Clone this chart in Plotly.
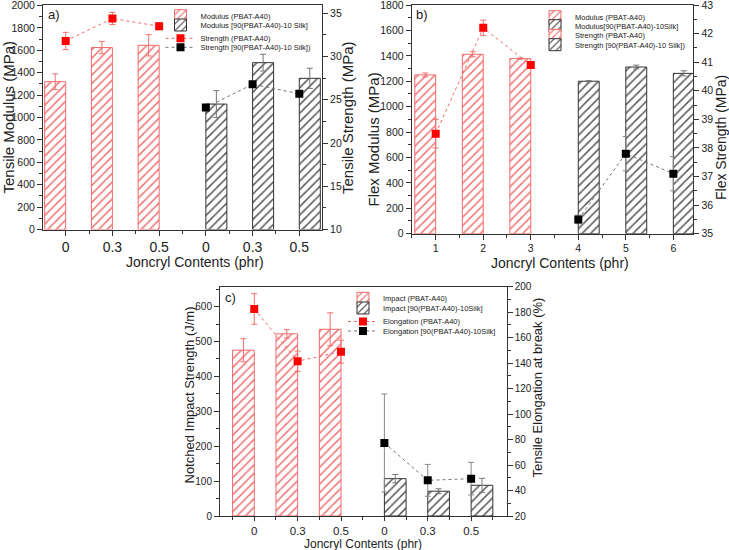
import plotly.graph_objects as go

# ---------------- data ----------------
positions = [1, 2, 3, 4, 5, 6]
labels_ac = ["0", "0.3", "0.5", "0", "0.3", "0.5"]
labels_b = ["1", "2", "3", "4", "5", "6"]

# panel a) tensile
tmod_pbat = [1320, 1625, 1645]
tmod_pbat_err = [70, 55, 95]
tmod_silk = [1120, 1490, 1350]
tmod_silk_err = [120, 75, 90]
tstr_pbat = [31.8, 34.4, 33.5]
tstr_pbat_err = [1.0, 0.7, 0.4]
tstr_silk = [24.1, 26.8, 25.7]
tstr_silk_err = [0.3, 0.3, 0.3]

# panel b) flexural
fmod_pbat = [1250, 1412, 1378]
fmod_pbat_err = [15, 20, 5]
fmod_silk = [1200, 1312, 1262]
fmod_silk_err = [5, 15, 20]
fstr_pbat = [38.5, 42.2, 40.9]
fstr_pbat_err = [0.5, 0.27, 0.1]
fstr_silk = [35.5, 37.8, 37.1]
fstr_silk_err = [0.15, 0.6, 0.6]

# panel c) impact / elongation
imp_pbat = [475, 522, 535]
imp_pbat_err = [33, 12, 47]
imp_silk = [107, 71, 88]
imp_silk_err = [12, 7, 20]
el_pbat = [182.5, 141.5, 149]
el_pbat_err = [12, 8, 9]
el_silk = [77.3, 48, 49.3]
el_silk_err = [38.5, 12.5, 12.8]

# ---------------- style ----------------
W, H = 729, 550
FONT = "Liberation Sans, Arial, sans-serif"
RED_LINE = "#f06a6a"
RED_HATCH = "#f07070"
RED_MK = "#ff0000"
BLK_LINE = "#333333"
BLK_HATCH = "#555555"
AX = "#333333"


def px(x):
    return x / W


def py(y):
    return 1 - y / H


def bar_marker(kind):
    if kind == "red":
        return dict(color="white", line=dict(color=RED_LINE, width=1),
                    pattern=dict(shape="/", fgcolor=RED_HATCH, bgcolor="white",
                                 fillmode="replace", size=6, solidity=0.25))
    return dict(color="white", line=dict(color=BLK_LINE, width=1),
                pattern=dict(shape="/", fgcolor=BLK_HATCH, bgcolor="white",
                             fillmode="replace", size=6, solidity=0.25))


fig = go.Figure()


def add_panel(n, red_y, red_err, blk_y, blk_err, rs_y, rs_err, bs_y, bs_err,
              names, width, legs, proxy_strength=False):
    xa = "x" if n == 1 else f"x{n}"
    yl = "y" if n == 1 else f"y{2*n-1}"
    yr = f"y{2*n}"
    fig.add_trace(go.Bar(x=positions[:3], y=red_y, width=width, offset=-width,
                         marker=bar_marker("red"), name=names[0],
                         error_y=dict(type="data", array=red_err, color=RED_HATCH,
                                      thickness=1, width=3),
                         xaxis=xa, yaxis=yl, legend=legs[0]))
    fig.add_trace(go.Bar(x=positions[3:], y=blk_y, width=width, offset=0,
                         marker=bar_marker("black"), name=names[1],
                         error_y=dict(type="data", array=blk_err, color="#777777",
                                      thickness=1, width=3),
                         xaxis=xa, yaxis=yl, legend=legs[1]))
    fig.add_trace(go.Scatter(x=positions[:3], y=rs_y, mode="lines+markers",
                             line=dict(color=RED_LINE, width=1, dash="dot"),
                             marker=dict(symbol="square", size=8, color=RED_MK),
                             error_y=dict(type="data", array=rs_err, color=RED_HATCH,
                                          thickness=1, width=3),
                             name=names[2], showlegend=not proxy_strength,
                             xaxis=xa, yaxis=yr, legend=legs[2]))
    fig.add_trace(go.Scatter(x=positions[3:], y=bs_y, mode="lines+markers",
                             line=dict(color="#777777", width=1, dash="dot"),
                             marker=dict(symbol="square", size=8, color="black"),
                             error_y=dict(type="data", array=bs_err, color="#888888",
                                          thickness=1, width=3),
                             name=names[3], showlegend=not proxy_strength,
                             xaxis=xa, yaxis=yr, legend=legs[3]))
    if proxy_strength:
        # legend-only entries (hatched boxes, as in the original legend); no value drawn
        fig.add_trace(go.Bar(x=positions[:1], y=[None], marker=bar_marker("red"),
                             name=names[2], hoverinfo="skip",
                             xaxis=xa, yaxis=yl, legend=legs[2]))
        fig.add_trace(go.Bar(x=positions[:1], y=[None], marker=bar_marker("black"),
                             name=names[3], hoverinfo="skip",
                             xaxis=xa, yaxis=yl, legend=legs[3]))


add_panel(1, tmod_pbat, tmod_pbat_err, tmod_silk, tmod_silk_err,
          tstr_pbat, tstr_pbat_err, tstr_silk, tstr_silk_err,
          ["Modulus (PBAT-A40)", "Modulus [90(PBAT-A40)-10 Silk]",
           "Strength (PBAT-A40)", "Strength [90(PBAT-A40)-10 Silk])"],
          0.45, ["legend", "legend2", "legend3", "legend4"])
add_panel(2, fmod_pbat, fmod_pbat_err, fmod_silk, fmod_silk_err,
          fstr_pbat, fstr_pbat_err, fstr_silk, fstr_silk_err,
          ["Modulus (PBAT-A40)", "Modulus[90(PBAT-A40)-10Silk]",
           "Strength (PBAT-A40)", "Strength [90(PBAT-A40)-10 Silk])"],
          0.44, ["legend5", "legend6", "legend7", "legend8"], proxy_strength=True)
add_panel(3, imp_pbat, imp_pbat_err, imp_silk, imp_silk_err,
          el_pbat, el_pbat_err, el_silk, el_silk_err,
          ["Impact (PBAT-A40)", "Impact [90(PBAT-A40)-10Silk]",
           "Elongation (PBAT-A40)", "Elongation [90(PBAT-A40)-10Silk]"],
          0.5, ["legend9", "legend10", "legend11", "legend12"])


def xaxis_def(dom_px, anchor, rng, ticktext, fs, tl=5):
    return dict(domain=[px(dom_px[0]), px(dom_px[1])], anchor=anchor, range=rng,
                tickmode="array", tickvals=positions, ticktext=ticktext,
                ticks="outside", ticklen=tl, tickcolor=AX, showline=True,
                linecolor=AX, linewidth=1, mirror=True, showgrid=False,
                zeroline=False, tickfont=dict(size=fs, color="#222"),
                automargin=False, ticklabeloverflow="allow",
                minor=dict(ticks="outside", ticklen=3, tickcolor=AX,
                           tickmode="linear", tick0=0.5, dtick=1),
                fixedrange=True)


def yaxis_def(dom_py, anchor, rng, dtick, mdtick, side="left", overlay=None, fs=10.5):
    d = dict(domain=[py(dom_py[1]), py(dom_py[0])], anchor=anchor, range=rng,
             tickmode="linear", tick0=0, dtick=dtick, ticks="outside", ticklen=5,
             tickcolor=AX, showline=True, linecolor=AX, linewidth=1,
             showgrid=False, zeroline=False, side=side, automargin=False,
             ticklabeloverflow="allow",
             tickfont=dict(size=fs, color="#222"),
             minor=dict(ticks="outside", ticklen=3, tickcolor=AX, dtick=mdtick),
             fixedrange=True)
    if overlay:
        d["overlaying"] = overlay
    return d


layout = dict(
    template="none",
    width=W, height=H, margin=dict(l=0, r=0, t=0, b=0, autoexpand=False),
    paper_bgcolor="white", plot_bgcolor="white", barmode="overlay",
    font=dict(family=FONT, color="#222"),
    showlegend=True,
    xaxis=xaxis_def((43, 322), "y", [0.514, 6.486], labels_ac, 14),
    yaxis=yaxis_def((5, 229.5), "x", [0, 2005], 200, 100),
    yaxis2=yaxis_def((5, 229.5), "x", [10, 35.96], 5, 2.5, side="right", overlay="y"),
    xaxis2=xaxis_def((411.7, 693.3), "y3", [0.495, 6.42], labels_b, 10.5),
    yaxis3=yaxis_def((5, 233.7), "x2", [0, 1800], 200, 100),
    yaxis4=yaxis_def((5, 233.7), "x2", [35, 43], 1, 0.5, side="right", overlay="y3"),
    xaxis3=xaxis_def((220, 506.7), "y5", [0.21, 6.82], labels_ac, 11.5, tl=4),
    yaxis5=yaxis_def((286.7, 516), "x3", [0, 657], 100, 50, fs=10),
    yaxis6=yaxis_def((286.7, 516), "x3", [20, 200], 20, 10, side="right", overlay="y5", fs=10),
)

# legends: one entry each so the rows can sit close together like the original
leg_pos = {
    "legend": (160.5, 15.7), "legend2": (160.5, 25.0),
    "legend3": (160.5, 38.3), "legend4": (160.5, 47.3),
    "legend5": (535, 16.7), "legend6": (535, 25.7),
    "legend7": (535, 35.3), "legend8": (535, 44.7),
    "legend9": (343, 298.3), "legend10": (343, 308.0),
    "legend11": (343, 321.5), "legend12": (343, 331.0),
}
for k, (lx, ly) in leg_pos.items():
    layout[k] = dict(x=px(lx), y=py(ly), xanchor="left", yanchor="middle",
                     bgcolor="rgba(0,0,0,0)", borderwidth=0, itemwidth=30,
                     font=dict(size=7.5, color="#222", family=FONT))

fig.update_layout(**layout)

# axis titles and panel labels
ann = [
    ("Tensile Modulus (MPa)", 8, 117.5, -90, 15),
    ("Tensile Strength (MPa)", 347, 118, -90, 15),
    ("Joncryl Contents (phr)", 195, 262, 0, 14),
    ("Flex Modulus (MPa)", 373.5, 140, -90, 15),
    ("Flex Strength (MPa)", 721, 138, -90, 14),
    ("Joncryl Contents (phr)", 560, 263, 0, 14),
    ("Notched Impact Strength (J/m)", 188.5, 395, -90, 13),
    ("Tensile Elongation at break (%)", 537, 387.5, -90, 13),
    ("Joncryl Contents (phr)", 362.5, 543.5, 0, 12),
    ("a)", 54, 15, 0, 13),
    ("b)", 422, 15, 0, 13),
    ("c)", 230, 297.5, 0, 13),
]
for text, x, y, ang, fs in ann:
    fig.add_annotation(text=text, x=px(x), y=py(y), xref="paper", yref="paper",
                       showarrow=False, textangle=ang, xanchor="center",
                       yanchor="middle", font=dict(size=fs, color="#222", family=FONT))

fig.write_html("out.html", config={"displayModeBar": False},
               post_script="document.body.style.margin='0';"
                           "document.body.style.overflow='hidden';")
